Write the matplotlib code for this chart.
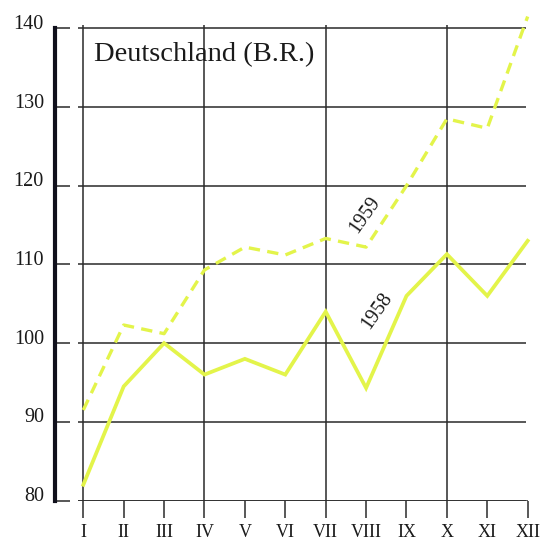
import matplotlib
matplotlib.use('Agg')
import matplotlib.pyplot as plt
from matplotlib.transforms import ScaledTranslation
import numpy as np

months = ['I', 'II', 'III', 'IV', 'V', 'VI', 'VII', 'VIII', 'IX', 'X', 'XI', 'XII']
values_1958 = [82, 94.5, 100, 96, 98, 96, 104, 94.3, 106, 111.3, 106, 113]
values_1959 = [91.5, 102.3, 101.2, 109.3, 112.2, 111.2, 113.3, 112.2, 120, 128.5, 127.3, 141.5]
y_ticks = [80, 90, 100, 110, 120, 130, 140]
vgrid_months = ['I', 'IV', 'VII', 'X']
title = 'Deutschland (B.R.)'
label_1958 = '1958'
label_1959 = '1959'

plt.rcParams['font.family'] = ['Liberation Serif', 'DejaVu Serif']

W, H = 545, 544
fig = plt.figure(figsize=(W / 100, H / 100), dpi=100)
fig.patch.set_facecolor('white')
ax_left, ax_right = 55.0, 539.8
ax_top, ax_bottom = 12.6, 500.5
ax = fig.add_axes([ax_left / W, (H - ax_bottom) / H, (ax_right - ax_left) / W, (ax_bottom - ax_top) / H])
ax.set_facecolor('white')

x = np.arange(1, len(months) + 1)
pos = dict(zip(months, x))
ax.set_xlim(0.2995, 12.3)
ax.set_ylim(80, 142)

grid_col = '#2a2a2a'
# horizontal grid lines
ax.hlines(y_ticks, 0.869, 11.95, color=grid_col, lw=1.1, zorder=1)
ax.hlines(80, 0.869, 12, color=grid_col, lw=1.1, zorder=1)
# vertical grid lines
ax.vlines([pos[m] for m in vgrid_months], 80, 140.4, color=grid_col, lw=1.1, zorder=1)

# spines
for s in ['top', 'right', 'bottom']:
    ax.spines[s].set_visible(False)
ax.spines['left'].set_bounds(80, 140)
ax.spines['left'].set_linewidth(3.0)
ax.spines['left'].set_color('#10101c')

# ticks
ax.set_yticks(y_ticks)
ax.set_yticklabels([str(v) for v in y_ticks], fontsize=14.5, color='#1a1a1a')
ax.tick_params(axis='y', direction='in', length=11, width=1.1, color=grid_col, pad=8)
for lab in ax.get_yticklabels():
    lab.set_transform(lab.get_transform() + ScaledTranslation(0, 6.5 / 100, fig.dpi_scale_trans))

ax.set_xticks(x)
ax.set_xticklabels(months, fontsize=13, color='#1a1a1a')
ax.tick_params(axis='x', direction='out', length=12, width=1.1, color=grid_col, pad=5)

line_col = '#e3f44a'
ax.plot(x, values_1958, color=line_col, lw=2.7, solid_joinstyle='miter', zorder=3, clip_on=False)
ax.plot(x, values_1959, color=line_col, lw=2.4, dashes=(3.4, 2.2), zorder=3, clip_on=False)

ax.text(1.26, 135.85, title, fontsize=20.5, ha='left', va='baseline', color='#1a1a1a')
ax.text(7.97, 116.3, label_1959, fontsize=14.5, rotation=55, ha='center', va='center', color='#1a1a1a')
ax.text(8.27, 104.1, label_1958, fontsize=14.5, rotation=55, ha='center', va='center', color='#1a1a1a')

fig.savefig('out.png', dpi=100, facecolor='white')
